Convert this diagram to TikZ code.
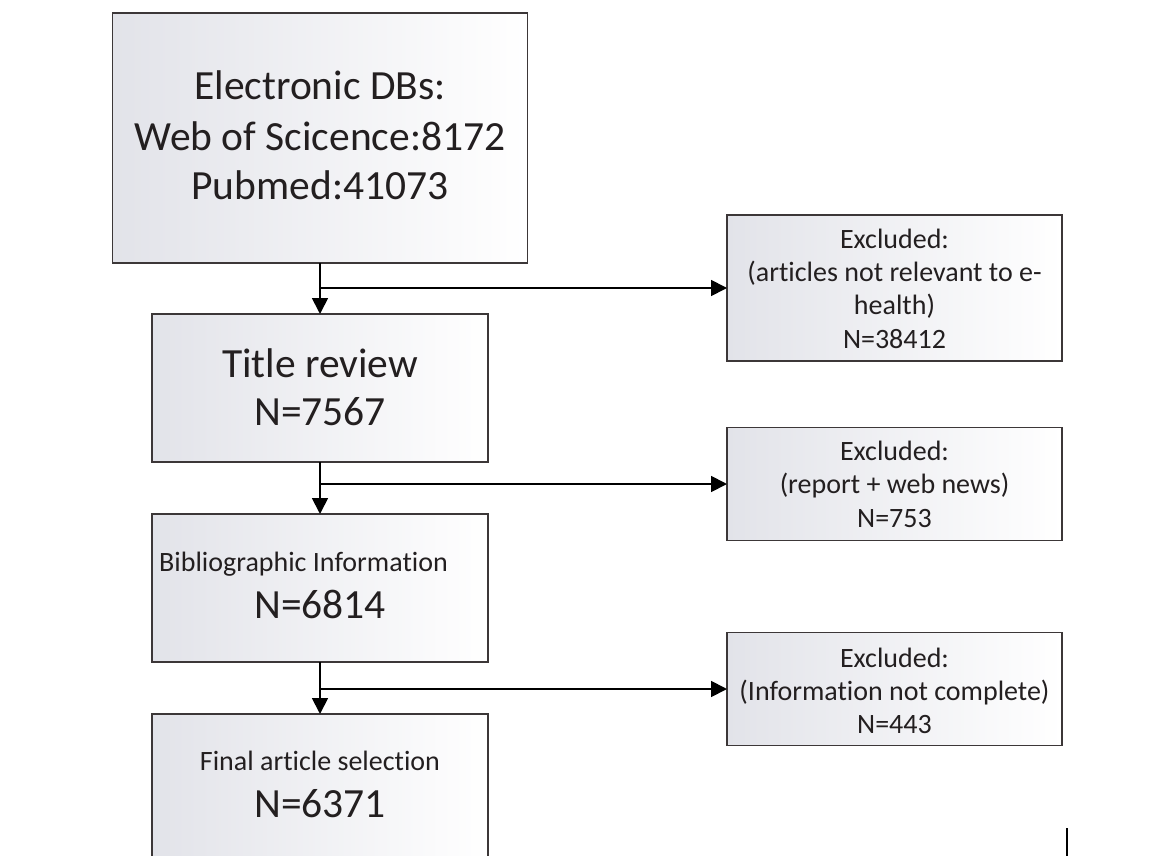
\documentclass[tikz,border=0pt]{standalone}
\usepackage{fontspec}
\setmainfont{Carlito}[Ligatures=NoCommon]
\usetikzlibrary{arrows.meta}
\definecolor{edge}{HTML}{3C3738}
\definecolor{shadeA}{HTML}{E2E3E9}
\definecolor{shadeM}{HTML}{F5F6F8}
\definecolor{shadeB}{HTML}{FFFFFF}
\definecolor{ink}{HTML}{231F20}
\tikzset{
  box/.style={draw=edge, line width=1.8pt, left color=shadeA, middle color=shadeM,
    right color=shadeB, inner sep=0pt, outer sep=0pt},
  big/.style={font=\fontsize{41.5}{49}\selectfont, text=ink, inner sep=0pt, anchor=base},
  mid/.style={font=\fontsize{28}{34}\selectfont, text=ink, inner sep=0pt, anchor=base},
  arr/.style={draw=black, line width=1.8pt, -{Triangle[length=16pt,width=16pt]}},
}
\begin{document}
\begin{tikzpicture}[x=1pt,y=-1pt]
\useasboundingbox (0,0) rectangle (1165,856);
\clip (0,0) rectangle (1165,856);
% main column boxes
\node[box, minimum width=415pt, minimum height=250pt] (b1) at (320,138) {};
\node[box, minimum width=336pt, minimum height=148pt] (b2) at (320,388) {};
\node[box, minimum width=336pt, minimum height=148pt] (b3) at (320,588) {};
\node[box, minimum width=336pt, minimum height=148pt] (b4) at (320,788) {};
% excluded boxes
\node[box, minimum width=335pt, minimum height=146pt] (r1) at (894.5,288) {};
\node[box, minimum width=335pt, minimum height=113pt] (r2) at (894.5,484) {};
\node[box, minimum width=335pt, minimum height=113pt] (r3) at (894.5,689) {};
% texts
\node[big] (t1a) at (320,100) {Electronic DBs:};
\node[big] (t1b) at (320,150) {Web of Scicence:8172};
\node[big] (t1c) at (320,200) {Pubmed:41073};
\node[big] (t2a) at (320,377) {Title review};
\node[big] (t2b) at (320,425) {N=7567};
\node[mid, anchor=base west] (t3a) at (159,571) {Bibliographic Information};
\node[big] (t3b) at (320,618) {N=6814};
\node[mid] (t4a) at (320,770) {Final article selection};
\node[big] (t4b) at (320,817) {N=6371};
\node[mid] (r1a) at (894.5,248) {Excluded:};
\node[mid] (r1b) at (894.5,281) {(articles not relevant to e-};
\node[mid] (r1c) at (894.5,314) {health)};
\node[mid] (r1d) at (894.5,348) {N=38412};
\node[mid] (r2a) at (894.5,460) {Excluded:};
\node[mid] (r2b) at (894.5,493) {(report + web news)};
\node[mid] (r2c) at (894.5,527) {N=753};
\node[mid] (r3a) at (894.5,667) {Excluded:};
\node[mid] (r3b) at (894.5,700) {(Information not complete)};
\node[mid] (r3c) at (894.5,733) {N=443};
% connectors
\draw[arr] (b1.south) -- (b2.north);
\draw[arr] (b2.south) -- (b3.north);
\draw[arr] (b3.south) -- (b4.north);
\coordinate (j1) at (b1.south |- r1.west);
\coordinate (j2) at (b2.south |- r2.west);
\coordinate (j3) at (b3.south |- r3.west);
\draw[arr] (j1) -- (r1.west);
\draw[arr] (j2) -- (r2.west);
\draw[arr] (j3) -- (r3.west);
% small mark at bottom right
\coordinate (m1) at (1067,828);
\coordinate (m2) at (1067,856);
\draw[line width=1.2pt] (m1) -- (m2);
\end{tikzpicture}
\end{document}
